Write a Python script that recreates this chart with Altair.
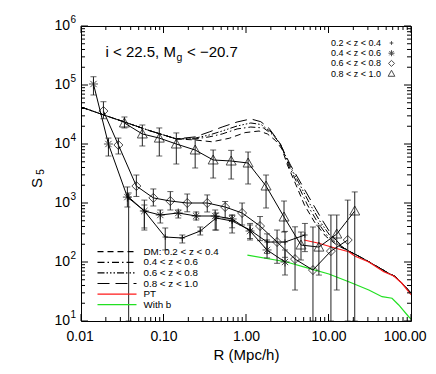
import altair as alt
import pandas as pd

# ------------------ values ------------------
# 0.8 < z < 1.0 (triangles)
tri_R  = [0.0336, 0.0554, 0.0889, 0.143, 0.242, 0.400, 0.661, 1.06, 1.75, 2.89, 4.64, 7.65, 12.6, 20.8]
tri_S  = [22700, 14800, 12600, 10000, 7910, 5360, 5150, 4760, 1940, 579, 194, 179, 298, 732]
tri_lo = [18700, 9250, 6260, 4580, 3920, 2650, 2550, 2100, 823, 322, 108, 60, 33.5, 10]
tri_hi = [28700, 21000, 18700, 15400, 12200, 7910, 7800, 7310, 2980, 1080, 322, 420, 626, 1540]

# 0.6 < z < 0.8 (diamonds)
dia_R  = [0.0187, 0.0284, 0.0469, 0.0753, 0.121, 0.194, 0.339, 0.559, 0.897, 1.48, 2.38, 3.93, 6.48, 10.7, 17.1]
dia_S  = [36200, 9620, 1940, 1220, 1080, 1000, 1000, 855, 677, 407, 218, 112, 73, 153, 236]
dia_lo = [26800, 6770, 1290, 890, 761, 710, 704, 557, 424, 230, 95, 33.5, 10, 10, 10]
dia_hi = [52100, 12600, 2980, 1730, 1560, 1420, 1370, 1060, 1000, 590, 348, 395, 392, 626, 1120]

# 0.4 < z < 0.6 (asterisks)
ast_R  = [0.01416, 0.0215, 0.0365, 0.0586, 0.0914, 0.151, 0.249, 0.423, 0.679, 1.12, 1.80, 2.97]
ast_S  = [104000, 10000, 1260, 732, 626, 677, 602, 602, 536, 335, 160, 100]
ast_lo = [67700, 6260, 855, 377, 458, 557, 515, 348, 310, 236, 117, 60.2]
ast_hi = [138000, 12600, 1870, 925, 761, 761, 704, 761, 626, 424, 236, 160]

# 0.2 < z < 0.4 (plus)
pls_R  = [0.0378, 0.0586, 0.105, 0.169, 0.279, 0.435, 0.679, 1.12, 1.80, 2.97, 5.18]
pls_S  = [1260, 732, 265, 255, 335, 557, 495, 348, 218, 218, 287]
pls_lo = [10, 348, 160, 210, 287, 348, 380, 250, 140, 120, 150]
pls_hi = [1480, 1120, 377, 287, 392, 677, 620, 450, 300, 330, 450]

# Dark-matter curves
dm_head_R = [0.01, 0.01675, 0.0336, 0.0673, 0.1428]
dm_head_S = [42400, 32900, 23600, 16900, 12200]
dm_tail_R = [17.6, 22.0, 28.3, 40.6, 53.7, 64.8, 77.2, 100]
dm_tail_S = [153, 131, 108, 80.8, 64.3, 56.4, 44.0, 29.9]

dm1_R = [0.2424, 0.389, 0.625, 0.975, 1.44, 1.82, 2.29, 2.73, 3.18, 4.04, 5.11, 6.76, 9.18, 12.6]
dm1_S = [11700, 10900, 12500, 15600, 16600, 14800, 11400, 8220, 4400, 2020, 925, 476, 276, 194]
dm2_R = [0.2424, 0.3581, 0.514, 0.780, 1.143, 1.63, 2.13, 2.66, 3.27, 4.27, 5.56, 7.34, 9.71, 13.2]
dm2_S = [12200, 13200, 14800, 18000, 19400, 18700, 14200, 9620, 4400, 2020, 925, 476, 276, 194]
dm3_R = [0.2424, 0.3581, 0.514, 0.780, 1.143, 1.523, 2.01, 2.58, 3.37, 4.51, 6.04, 7.98, 10.5, 13.7]
dm3_S = [12600, 14200, 16600, 20200, 22700, 21400, 16000, 10400, 4400, 2020, 925, 476, 276, 194]
dm4_R = [0.2424, 0.3581, 0.514, 0.780, 1.143, 1.51, 1.90, 2.51, 3.46, 4.77, 6.57, 8.68, 11.1, 14.1]
dm4_S = [13200, 16000, 19400, 23600, 26600, 23900, 18500, 10900, 4400, 2020, 925, 476, 276, 194]

# Perturbation theory and biased prediction
pt_R = [5.04, 7.65, 12.2, 17.6, 20.8, 30.8, 46.8, 61.8, 77.2, 100]
pt_S = [236, 208, 171, 149, 126, 100, 68.5, 57.9, 44.0, 28.0]
wb_R = [1.04, 3.03, 5.80, 10.1, 17.6, 30.8, 44.6, 58.9, 71.0, 93.8, 100]
wb_S = [131, 101, 78.2, 62.6, 46.3, 33.5, 25.8, 24.3, 18.7, 11.8, 10.8]

x_major = [0.01, 0.1, 1, 10, 100]
y_major = [10, 100, 1e3, 1e4, 1e5, 1e6]
y_exp = ["1", "2", "3", "4", "5", "6"]
mult = [2, 3, 4, 5, 6, 7, 8, 9]
x_minor = [m * d for d in [0.01, 0.1, 1, 10] for m in mult]
y_minor = [m * d for d in [10, 100, 1e3, 1e4, 1e5] for m in mult]

# ------------------ chart ------------------
W, H = 330, 295
xs = alt.Scale(type="log", domain=[0.01, 100], nice=False)
ys = alt.Scale(type="log", domain=[10, 1e6], nice=False)
xaxis = alt.Axis(values=x_major, format=".2f", ticks=False, domain=False, grid=False,
                 labelFontSize=14, labelPadding=8, labelColor="black",
                 labelFlush=True, labelFlushOffset=15,
                 title="R (Mpc/h)", titleFontSize=15, titleFontWeight="normal",
                 titleColor="black", titlePadding=4)


def X(f="R"):
    return alt.X(f"{f}:Q", scale=xs, axis=xaxis)


def Y(f="S"):
    return alt.Y(f"{f}:Q", scale=ys, axis=None)


layers = []

# DM curves
dm_dash = [[6, 4], [7, 3, 1.5, 3], [7, 2, 1.5, 2, 1.5, 2, 1.5, 2], [12, 6]]
for Rs, Ss, dash in zip([dm1_R, dm2_R, dm3_R, dm4_R], [dm1_S, dm2_S, dm3_S, dm4_S], dm_dash):
    df = pd.DataFrame({"R": dm_head_R + Rs + dm_tail_R, "S": dm_head_S + Ss + dm_tail_S})
    layers.append(alt.Chart(df).mark_line(color="black", strokeWidth=1, strokeDash=dash, clip=True)
                  .encode(x=X(), y=Y()))

# PT (red) and with-bias (green)
layers.append(alt.Chart(pd.DataFrame({"R": pt_R, "S": pt_S}))
              .mark_line(color="#ff1a1a", strokeWidth=1.2, clip=True).encode(x=X(), y=Y()))
layers.append(alt.Chart(pd.DataFrame({"R": wb_R, "S": wb_S}))
              .mark_line(color="#22e022", strokeWidth=1.2, clip=True).encode(x=X(), y=Y()))

shapes = {
    "tri": ("M-1,0.8L1,0.8L0,-1Z", 100),
    "dia": ("M0,-1L1,0L0,1L-1,0Z", 81),
    "ast": ("M-1,0L1,0M0,-1L0,1M-0.7,-0.7L0.7,0.7M-0.7,0.7L0.7,-0.7", 81),
    "pls": ("M-1,0L1,0M0,-1L0,1", 30),
}
cap = "M-1,0L1,0"
for key, R, S, lo, hi in [("tri", tri_R, tri_S, tri_lo, tri_hi),
                          ("dia", dia_R, dia_S, dia_lo, dia_hi),
                          ("ast", ast_R, ast_S, ast_lo, ast_hi),
                          ("pls", pls_R, pls_S, pls_lo, pls_hi)]:
    df = pd.DataFrame({"R": R, "S": S, "lo": lo, "hi": hi})
    b = alt.Chart(df)
    shp, sz = shapes[key]
    layers += [
        b.mark_line(color="black", strokeWidth=1, clip=True).encode(x=X(), y=Y()),
        b.mark_rule(color="#222222", strokeWidth=1, clip=True).encode(x=X(), y=Y("lo"), y2="hi:Q"),
        b.mark_point(shape=cap, size=36, color="#222222", strokeWidth=1, clip=True).encode(x=X(), y=Y("lo")),
        b.mark_point(shape=cap, size=36, color="#222222", strokeWidth=1, clip=True).encode(x=X(), y=Y("hi")),
        b.mark_point(shape=shp, size=sz, color="black", filled=False, strokeWidth=1, clip=True).encode(x=X(), y=Y()),
    ]

# inward ticks on all four sides
for vals, L in [(x_major, 7), (x_minor, 4)]:
    d = alt.Chart(pd.DataFrame({"v": vals}))
    layers.append(d.mark_rule(color="black", strokeWidth=1).encode(x=X("v"), y=alt.value(H), y2=alt.value(H - L)))
    layers.append(d.mark_rule(color="black", strokeWidth=1).encode(x=X("v"), y=alt.value(0), y2=alt.value(L)))
for vals, L in [(y_major, 7), (y_minor, 4)]:
    d = alt.Chart(pd.DataFrame({"v": vals}))
    layers.append(d.mark_rule(color="black", strokeWidth=1).encode(y=Y("v"), x=alt.value(0), x2=alt.value(L)))
    layers.append(d.mark_rule(color="black", strokeWidth=1).encode(y=Y("v"), x=alt.value(W), x2=alt.value(W - L)))

# y tick labels 10^n (base + superscript exponent)
ylab = alt.Chart(pd.DataFrame({"v": y_major, "e": y_exp}))
layers.append(ylab.mark_text(text="10", fontSize=14, align="right", baseline="middle", color="black")
              .encode(y=Y("v"), x=alt.value(-11)))
layers.append(ylab.mark_text(fontSize=10, align="left", baseline="middle", color="black", dy=-6)
              .encode(y=Y("v"), x=alt.value(-10.5), text="e:N"))

one = pd.DataFrame({"a": [0]})


def txt(s, x, y, size, align="left", baseline="middle", color="black", angle=0):
    return alt.Chart(one).mark_text(text=s, fontSize=size, align=align, baseline=baseline,
                                    color=color, angle=angle).encode(x=alt.value(x), y=alt.value(y))


# y axis title S_5
layers += [txt("S", -44.5, 157, 15, align="center", angle=270),
           txt("5", -40.5, 146, 10, align="center", angle=270)]

# title annotation
layers += [txt("i < 22.5, M", 24.5, 31, 15, baseline="alphabetic"),
           txt("g", 95.5, 34.5, 10.5, baseline="alphabetic"),
           txt("< \u221220.7", 106, 31, 15, baseline="alphabetic")]

# top-right legend
tr_labels = ["0.2 < z < 0.4", "0.4 < z < 0.6", "0.6 < z < 0.8", "0.8 < z < 1.0"]
tr_keys = ["pls", "ast", "dia", "tri"]
for i, (lab, key) in enumerate(zip(tr_labels, tr_keys)):
    yy = 17 + 10.2 * i
    layers.append(txt(lab, 250, yy, 9))
    shp, sz = shapes[key]
    layers.append(alt.Chart(one).mark_point(shape=shp, size=sz * 0.45, color="black", filled=False, strokeWidth=1)
                  .encode(x=alt.value(310.5), y=alt.value(yy)))

# bottom-left legend
bl_labels = ["DM: 0.2 < z < 0.4", "0.4 < z < 0.6", "0.6 < z < 0.8", "0.8 < z < 1.0", "PT", "With b"]
bl_colors = ["black", "black", "black", "black", "#ff1a1a", "#22e022"]
bl_dash = dm_dash + [[1, 0], [1, 0]]
for i, (lab, col, dash) in enumerate(zip(bl_labels, bl_colors, bl_dash)):
    yy = 225.7 + 10.6 * i
    layers.append(alt.Chart(one).mark_rule(color=col, strokeWidth=1.2, strokeDash=dash)
                  .encode(x=alt.value(16.5), x2=alt.value(55.5), y=alt.value(yy)))
    layers.append(txt(lab, 62.5, yy, 9.8))

chart = alt.layer(*layers).properties(
    width=W, height=H,
    autosize=alt.AutoSizeParams(type="none"),
    padding={"left": 73, "top": 18, "right": 17, "bottom": 45},
).configure(font="Liberation Sans").configure_view(stroke="black", strokeWidth=1)

chart.save("out.html", embed_options={"renderer": "svg", "actions": False})
